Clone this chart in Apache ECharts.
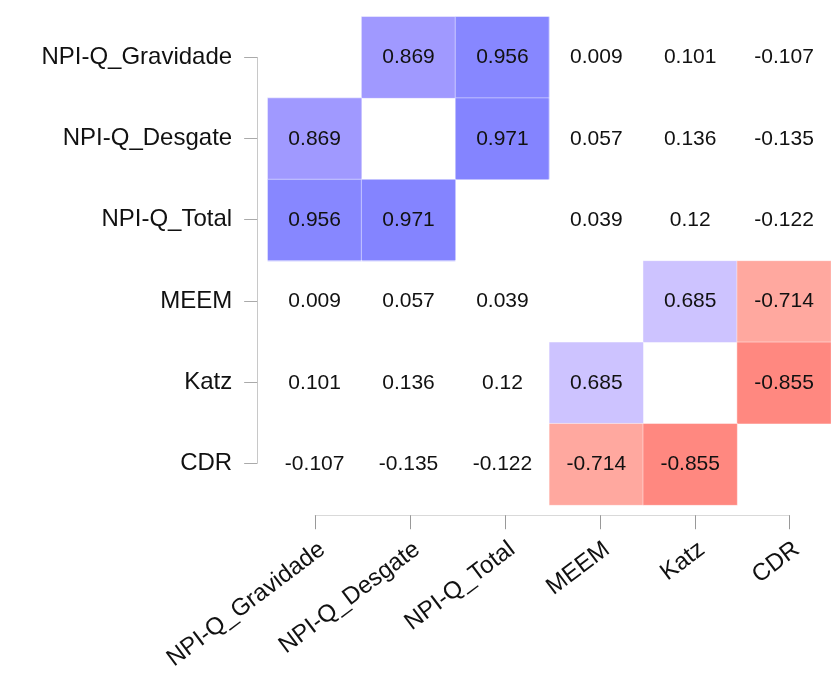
<!DOCTYPE html>
<html>
<head>
<meta charset="utf-8">
<script src="https://cdn.jsdelivr.net/npm/echarts@6/dist/echarts.min.js"></script>
<style>
html,body{margin:0;padding:0;background:#fff;}
#c{width:831px;height:673px;}
</style>
</head>
<body>
<div id="c"></div>
<script>
// ---- data ----
const variables = ['NPI-Q_Gravidade', 'NPI-Q_Desgate', 'NPI-Q_Total', 'MEEM', 'Katz', 'CDR'];
const rowGravidade = [null, 0.869, 0.956, 0.009, 0.101, -0.107];
const rowDesgate   = [0.869, null, 0.971, 0.057, 0.136, -0.135];
const rowTotal     = [0.956, 0.971, null, 0.039, 0.12, -0.122];
const rowMEEM      = [0.009, 0.057, 0.039, null, 0.685, -0.714];
const rowKatz      = [0.101, 0.136, 0.12, 0.685, null, -0.855];
const rowCDR       = [-0.107, -0.135, -0.122, -0.714, -0.855, null];
const rows = [rowGravidade, rowDesgate, rowTotal, rowMEEM, rowKatz, rowCDR];
const threshold = 0.5; // only strong correlations get a fill

// colour anchors (value -> colour)
const colorStops = [
  [-1.0, [255, 122, 112]],
  [-0.855, [255, 136, 128]],
  [-0.714, [255, 168, 159]],
  [0.0, [255, 255, 255]],
  [0.685, [205, 195, 255]],
  [0.869, [160, 153, 255]],
  [0.96, [134, 134, 255]],
  [1.0, [128, 128, 255]]
];
function colorFor(v) {
  if (v == null || Math.abs(v) < threshold) return 'rgba(255,255,255,0)';
  for (let i = 0; i < colorStops.length - 1; i++) {
    const a = colorStops[i], b = colorStops[i + 1];
    if (v >= a[0] && v <= b[0]) {
      const t = (v - a[0]) / (b[0] - a[0]);
      const c = a[1].map((x, k) => Math.round(x + (b[1][k] - x) * t));
      return 'rgb(' + c.join(',') + ')';
    }
  }
  return 'rgba(255,255,255,0)';
}

const cells = [];
rows.forEach((r, yi) => r.forEach((v, xi) => {
  if (v !== null) cells.push([xi, yi, v]);
}));

const cellW = 94.9, cellH = 81.4;
const gLeft = 267.7, gTop = 16.7;

const chart = echarts.init(document.getElementById('c'), null, {renderer: 'canvas'});
const fontFam = '"Liberation Sans", Arial, sans-serif';
chart.setOption({
  backgroundColor: '#fff',
  animation: false,
  grid: [
    {left: gLeft, top: gTop, width: cellW * 6, height: cellH * 6},
    {left: gLeft + cellW / 2, top: gTop + cellH / 2, width: cellW * 5, height: cellH * 5}
  ],
  xAxis: [
    {type: 'category', data: variables, gridIndex: 0, show: false},
    {
      type: 'category', data: variables, gridIndex: 1, boundaryGap: false,
      position: 'bottom', offset: 52,
      axisLine: {show: true, lineStyle: {color: '#d9d9d9', width: 1}},
      axisTick: {show: true, length: 14, alignWithLabel: true, lineStyle: {color: '#999', width: 1}},
      axisLabel: {
        interval: 0, rotate: 37, margin: 22, verticalAlign: 'top',
        fontSize: 24, color: '#111', fontFamily: fontFam
      },
      splitLine: {show: false}
    }
  ],
  yAxis: [
    {type: 'category', data: variables, gridIndex: 0, inverse: true, show: false},
    {
      type: 'category', data: variables, gridIndex: 1, inverse: true, boundaryGap: false,
      position: 'left', offset: 58,
      axisLine: {show: true, lineStyle: {color: '#c8c8c8', width: 1}},
      axisTick: {show: true, length: 13, lineStyle: {color: '#aaa', width: 1}},
      axisLabel: {interval: 0, margin: 25, fontSize: 24, color: '#111', fontFamily: fontFam},
      splitLine: {show: false}
    }
  ],
  series: [{
    type: 'heatmap',
    xAxisIndex: 0, yAxisIndex: 0,
    data: cells,
    itemStyle: {
      color: p => colorFor(p.value[2]),
      borderColor: 'rgba(255,255,255,0.45)',
      borderWidth: 1
    },
    label: {
      show: true,
      formatter: p => String(p.value[2]),
      fontSize: 21, color: '#111', fontFamily: fontFam
    },
    emphasis: {disabled: true}
  }]
});
</script>
</body>
</html>
